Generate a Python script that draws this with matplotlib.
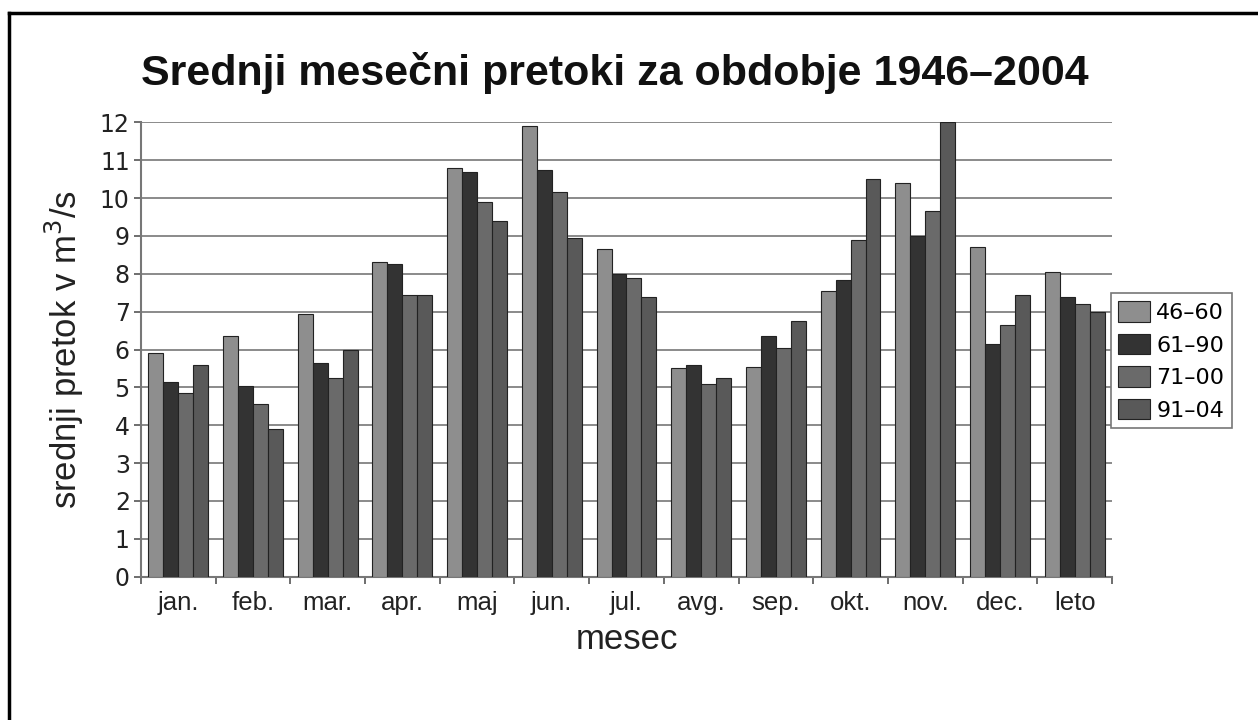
import matplotlib.pyplot as plt
import numpy as np
from matplotlib.lines import Line2D

# podatki
meseci = ['jan.', 'feb.', 'mar.', 'apr.', 'maj', 'jun.', 'jul.', 'avg.', 'sep.', 'okt.', 'nov.', 'dec.', 'leto']
obdobja = ['46–60', '61–90', '71–00', '91–04']
p_46_60 = [5.9, 6.35, 6.95, 8.3, 10.8, 11.9, 8.65, 5.5, 5.55, 7.55, 10.4, 8.7, 8.05]
p_61_90 = [5.15, 5.05, 5.65, 8.25, 10.7, 10.75, 8.0, 5.6, 6.35, 7.85, 9.0, 6.15, 7.4]
p_71_00 = [4.85, 4.55, 5.25, 7.45, 9.9, 10.15, 7.9, 5.1, 6.05, 8.9, 9.65, 6.65, 7.2]
p_91_04 = [5.6, 3.9, 6.0, 7.45, 9.4, 8.95, 7.4, 5.25, 6.75, 10.5, 12.0, 7.45, 7.0]
barve = ['#8e8e8e', '#333333', '#6a6a6a', '#595959']

fig = plt.figure(figsize=(12.58, 7.2), dpi=100)
ax = fig.add_axes([0.112, 0.199, 0.772, 0.631])

x = np.arange(len(meseci))
w = 0.2
for i, (vrednosti, barva) in enumerate(zip([p_46_60, p_61_90, p_71_00, p_91_04], barve)):
    ax.bar(x - 0.3 + i * w, vrednosti, w, color=barva, edgecolor='#222222',
           linewidth=0.8, label=obdobja[i], zorder=3)

ax.set_xlim(-0.5, 12.5)
ax.set_ylim(0, 12)
ax.set_yticks(range(0, 13))
ax.set_yticklabels([str(v) for v in range(0, 13)], family='DejaVu Sans', fontsize=17, color='#222222')
ax.yaxis.grid(True, color='#777777', linewidth=1.2, zorder=0)

# kljukice med kategorijami
ax.set_xticks(np.arange(-0.5, 13, 1))
ax.set_xticklabels([])
ax.set_xticks(x, minor=True)
ax.set_xticklabels(meseci, minor=True, family='Liberation Sans', fontsize=18.5, color='#222222')
ax.tick_params(axis='x', which='minor', length=0, pad=10)
ax.tick_params(axis='x', which='major', length=5, color='#555555', width=1.2)
ax.tick_params(axis='y', length=5, color='#555555', width=1.2, pad=3)

for s in ['top', 'right']:
    ax.spines[s].set_visible(False)
for s in ['left', 'bottom']:
    ax.spines[s].set_color('#777777')
    ax.spines[s].set_linewidth(1.5)

ax.set_ylabel('srednji pretok v m$^3$/s', family='Liberation Sans', fontsize=25, labelpad=10, color='#222222')
ax.set_xlabel('mesec', family='Liberation Sans', fontsize=25, labelpad=6, color='#222222')

fig.text(0.489, 0.899, 'Srednji mesečni pretoki za obdobje 1946–2004', ha='center', va='center',
         family='Liberation Sans', fontweight='bold', fontsize=31, color='#111111')

leg = ax.legend(loc='center left', bbox_to_anchor=(0.9985, 0.475),
                prop={'family': 'DejaVu Sans', 'size': 16},
                fancybox=False, edgecolor='#777777', framealpha=1,
                handlelength=1.4, handleheight=1.05, handletextpad=0.3,
                borderpad=0.35, labelspacing=0.48, borderaxespad=0)
leg.get_frame().set_linewidth(1.2)

# okvir (le zgoraj in levo)
fig.add_artist(Line2D([9 / 1258, 1], [1 - 13 / 720, 1 - 13 / 720], color='black', linewidth=2.5))
fig.add_artist(Line2D([9 / 1258, 9 / 1258], [0, 1 - 13 / 720], color='black', linewidth=2.5))

fig.savefig('out.png', dpi=100, facecolor='white')
